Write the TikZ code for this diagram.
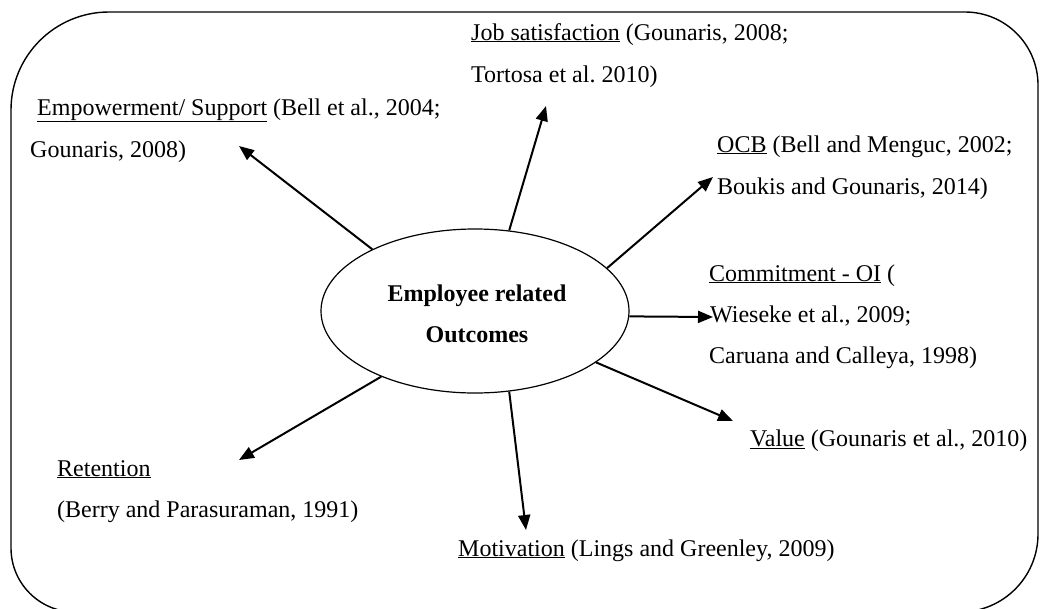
\documentclass[tikz,border=0pt]{standalone}
\usepackage{fontspec}
\setmainfont{Liberation Serif}
\usetikzlibrary{arrows.meta,shapes.geometric}
\frenchspacing
\begin{document}
\begin{tikzpicture}[x=1pt,y=-1pt,
  lbl/.style={anchor=base west, inner sep=0pt, font=\fontsize{24}{24}\selectfont},
  hubtext/.style={anchor=base, inner sep=0pt, font=\bfseries\fontsize{24}{24}\selectfont},
  link/.style={line width=2pt, -{Triangle[length=15pt,width=12pt]}},
]
\useasboundingbox (0,0) rectangle (1041,608);

% outer frame with unequal corner radii
\draw[line width=1.4pt]
  (11,330) [rounded corners=98pt] -- (11,12) -- (500,12)
  [rounded corners=73pt] -- (1038,12) -- (1038,330)
  [rounded corners=78pt] -- (1038,612) -- (500,612)
  [rounded corners=64pt] -- (11,612) -- (11,330) -- cycle;

% central hub
\node[ellipse, draw, line width=1.2pt, minimum width=308pt, minimum height=164pt, inner sep=0pt] (hub) at (475,311) {};
\node[hubtext] (hubA) at (477,301) {Employee related};
\node[hubtext] (hubB) at (477,342) {Outcomes};

% outcome labels
\node[lbl] (jobA) at (471,40) {\underline{Job satisfaction} (Gounaris, 2008;};
\node[lbl] (jobB) at (471,82) {Tortosa et al. 2010)};
\node[lbl] (empA) at (37,115) {\underline{Empowerment/ Support} (Bell et al., 2004;};
\node[lbl] (empB) at (30,157) {Gounaris, 2008)};
\node[lbl] (ocbA) at (717,152) {\underline{OCB} (Bell and Menguc, 2002;};
\node[lbl] (ocbB) at (717,194) {Boukis and Gounaris, 2014)};
\node[lbl] (comA) at (709,281) {\underline{Commitment - OI} (};
\node[lbl] (comB) at (710,322) {Wieseke et al., 2009;};
\node[lbl] (comC) at (709,363) {Caruana and Calleya, 1998)};
\node[lbl] (val) at (750,446) {\underline{Value} (Gounaris et al., 2010)};
\node[lbl] (retA) at (57,476) {\underline{Retention}};
\node[lbl] (retB) at (57,517) {(Berry and Parasuraman, 1991)};
\node[lbl] (mot) at (458,556) {\underline{Motivation} (Lings and Greenley, 2009)};

% arrow tips
\coordinate (tEmp) at (239,146);
\coordinate (tJob) at (546,106);
\coordinate (tOcb) at (713,177);
\coordinate (tCom) at (713,317);
\coordinate (tVal) at (733,421);
\coordinate (tMot) at (526,530);
\coordinate (tRet) at (239,460);

% connectors
\draw[link] (hub.149) -- (tEmp);
\draw[link] (hub.67) -- (tJob);
\draw[link] (hub.18.6) -- (tOcb);
\draw[link] (hub.-2) -- (tCom);
\draw[link] (hub.-23.6) -- (tVal);
\draw[link] (hub.-67) -- (tMot);
\draw[link] (hub.215) -- (tRet);
\end{tikzpicture}
\end{document}
